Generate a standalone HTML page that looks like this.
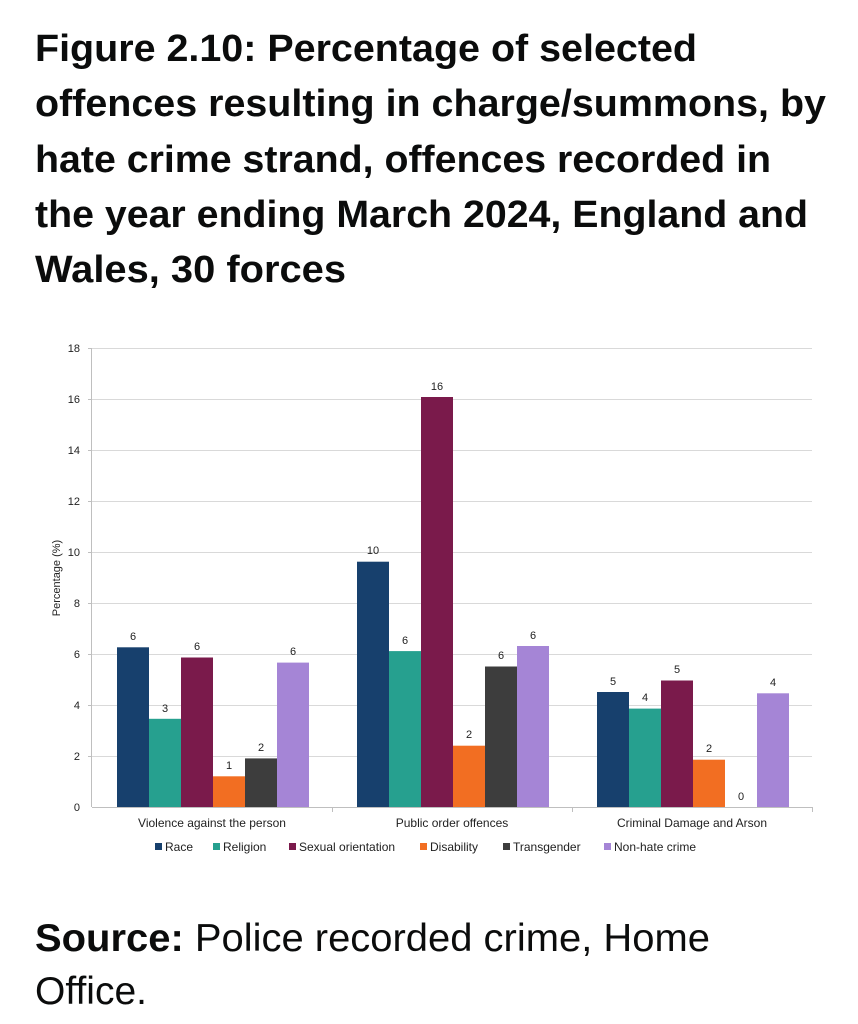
<!DOCTYPE html>
<html><head><meta charset="utf-8"><style>
html,body{margin:0;padding:0;background:#fff;width:858px;height:1024px;overflow:hidden}
svg{display:block}
</style></head><body>
<svg width="858" height="1024" viewBox="0 0 858 1024" xmlns="http://www.w3.org/2000/svg" font-family="Liberation Sans, Arial, sans-serif">
<g font-weight="bold" font-size="38" fill="#0b0c0c">
<text x="35" y="61" textLength="662" lengthAdjust="spacingAndGlyphs">Figure 2.10: Percentage of selected</text>
<text x="35" y="116" textLength="791" lengthAdjust="spacingAndGlyphs">offences resulting in charge/summons, by</text>
<text x="35" y="172" textLength="736" lengthAdjust="spacingAndGlyphs">hate crime strand, offences recorded in</text>
<text x="35" y="227" textLength="773" lengthAdjust="spacingAndGlyphs">the year ending March 2024, England and</text>
<text x="35" y="282" textLength="311" lengthAdjust="spacingAndGlyphs">Wales, 30 forces</text>
</g>
<g stroke="#d9d9d9" stroke-width="1">
<line x1="92" x2="812" y1="348.5" y2="348.5"/>
<line x1="92" x2="812" y1="399.5" y2="399.5"/>
<line x1="92" x2="812" y1="450.5" y2="450.5"/>
<line x1="92" x2="812" y1="501.5" y2="501.5"/>
<line x1="92" x2="812" y1="552.5" y2="552.5"/>
<line x1="92" x2="812" y1="603.5" y2="603.5"/>
<line x1="92" x2="812" y1="654.5" y2="654.5"/>
<line x1="92" x2="812" y1="705.5" y2="705.5"/>
<line x1="92" x2="812" y1="756.5" y2="756.5"/>
</g>
<g stroke="#bfbfbf" stroke-width="1">
<line x1="91.5" x2="91.5" y1="348" y2="807"/>
<line x1="88" x2="92" y1="348.5" y2="348.5"/>
<line x1="88" x2="92" y1="399.5" y2="399.5"/>
<line x1="88" x2="92" y1="450.5" y2="450.5"/>
<line x1="88" x2="92" y1="501.5" y2="501.5"/>
<line x1="88" x2="92" y1="552.5" y2="552.5"/>
<line x1="88" x2="92" y1="603.5" y2="603.5"/>
<line x1="88" x2="92" y1="654.5" y2="654.5"/>
<line x1="88" x2="92" y1="705.5" y2="705.5"/>
<line x1="88" x2="92" y1="756.5" y2="756.5"/>
<line x1="92" x2="812" y1="807.5" y2="807.5"/>
<line x1="332.5" x2="332.5" y1="807" y2="812"/>
<line x1="572.5" x2="572.5" y1="807" y2="812"/>
<line x1="812.5" x2="812.5" y1="807" y2="812"/>
</g>
<g font-size="11" fill="#222" text-anchor="end">
<text x="80" y="352">18</text><text x="80" y="403">16</text><text x="80" y="454">14</text>
<text x="80" y="505">12</text><text x="80" y="556">10</text><text x="80" y="607">8</text>
<text x="80" y="658">6</text><text x="80" y="709">4</text><text x="80" y="760">2</text>
<text x="80" y="811">0</text>
</g>
<text transform="translate(60,578) rotate(-90)" font-size="11" fill="#222" text-anchor="middle">Percentage (%)</text>
<g>
<rect x="117" y="647.3" width="32" height="159.7" fill="#17406d"/>
<rect x="149" y="718.8" width="32" height="88.2" fill="#26a08f"/>
<rect x="181" y="657.5" width="32" height="149.5" fill="#7a1a4b"/>
<rect x="213" y="776.3" width="32" height="30.7" fill="#f26e22"/>
<rect x="245" y="758.4" width="32" height="48.6" fill="#3d3d3d"/>
<rect x="277" y="662.6" width="32" height="144.4" fill="#a585d6"/>

<rect x="357" y="561.7" width="32" height="245.3" fill="#17406d"/>
<rect x="389" y="651.1" width="32" height="155.9" fill="#26a08f"/>
<rect x="421" y="397" width="32" height="410" fill="#7a1a4b"/>
<rect x="453" y="745.7" width="32" height="61.3" fill="#f26e22"/>
<rect x="485" y="666.5" width="32" height="140.5" fill="#3d3d3d"/>
<rect x="517" y="646" width="32" height="161" fill="#a585d6"/>

<rect x="597" y="692" width="32" height="115" fill="#17406d"/>
<rect x="629" y="708.6" width="32" height="98.4" fill="#26a08f"/>
<rect x="661" y="680.5" width="32" height="126.5" fill="#7a1a4b"/>
<rect x="693" y="759.7" width="32" height="47.3" fill="#f26e22"/>
<rect x="757" y="693.3" width="32" height="113.7" fill="#a585d6"/>
</g>
<g font-size="11" fill="#222" text-anchor="middle">
<text x="133" y="640">6</text><text x="165" y="712">3</text><text x="197" y="650">6</text>
<text x="229" y="769">1</text><text x="261" y="751">2</text><text x="293" y="655">6</text>
<text x="373" y="554">10</text><text x="405" y="644">6</text><text x="437" y="390">16</text>
<text x="469" y="738">2</text><text x="501" y="659">6</text><text x="533" y="639">6</text>
<text x="613" y="685">5</text><text x="645" y="701">4</text><text x="677" y="673">5</text>
<text x="709" y="752">2</text><text x="741" y="800">0</text><text x="773" y="686">4</text>
</g>
<g font-size="12" fill="#222" text-anchor="middle">
<text x="212" y="827">Violence against the person</text>
<text x="452" y="827">Public order offences</text>
<text x="692" y="827">Criminal Damage and Arson</text>
</g>
<g font-size="12" fill="#222">
<rect x="155" y="843" width="7" height="7" fill="#17406d"/><text x="165" y="851">Race</text>
<rect x="213" y="843" width="7" height="7" fill="#26a08f"/><text x="223" y="851">Religion</text>
<rect x="289" y="843" width="7" height="7" fill="#7a1a4b"/><text x="299" y="851">Sexual orientation</text>
<rect x="420" y="843" width="7" height="7" fill="#f26e22"/><text x="430" y="851">Disability</text>
<rect x="503" y="843" width="7" height="7" fill="#3d3d3d"/><text x="513" y="851">Transgender</text>
<rect x="604" y="843" width="7" height="7" fill="#a585d6"/><text x="614" y="851">Non-hate crime</text>
</g>
<g font-size="39" fill="#0b0c0c">
<text x="35" y="951" textLength="675" lengthAdjust="spacingAndGlyphs"><tspan font-weight="bold">Source:</tspan> Police recorded crime, Home</text>
<text x="35" y="1004">Office.</text>
</g>
</svg>
</body></html>
